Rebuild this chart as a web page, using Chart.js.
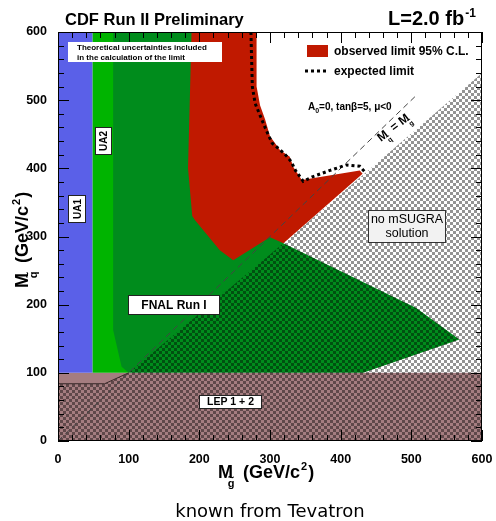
<!DOCTYPE html>
<html>
<head>
<meta charset="utf-8">
<script src="https://cdn.jsdelivr.net/npm/chart.js@4.4.1/dist/chart.umd.min.js"></script>
<style>
html, body { margin: 0; padding: 0; background: #fff; }
#wrap { width: 496px; height: 521px; }
</style>
</head>
<body>
<div id="wrap"><canvas id="chart" width="496" height="521"></canvas></div>
<script>
// regions in (gluino mass, squark mass), GeV/c^2
const lepBand = [[0, 0], [600, 0], [600, 100], [0, 100]];
const ua1Region = [[0, 100], [49, 100], [49, 600], [0, 600]];
const ua2Region = [[49, 100], [100, 100], [100, 600], [49, 600]];
const fnalRegion = [[78, 600], [260, 600], [300, 320], [319, 290], [507, 195], [568, 149], [432, 100], [100, 100], [90, 109], [78, 163]];
const observedRegion = [[189, 600], [281, 600], [281, 520], [286, 492], [293, 472], [300, 447], [307, 437], [314, 427], [328, 417], [333, 402], [345, 383], [427, 397], [431, 392], [319, 290], [300, 299], [248, 265], [229, 280], [194, 324], [190, 330], [184, 400]];
const noSolutionRegion = [[0, 0], [600, 0], [600, 540], [431, 390], [319, 290], [100, 100], [66, 84], [0, 84]];
const lepEdge = [[0, 84], [66, 84], [100, 100]];
const equalMassLine = [[0, 0], [505, 505]];
const expectedLimit = [[273, 600], [275, 520], [279, 495], [287, 475], [295, 455], [303, 437], [320, 422], [330, 410], [336, 397], [347, 381], [361, 388], [385, 397], [408, 405], [427, 403], [434, 395]];
const axisTicks = [0, 100, 200, 300, 400, 500, 600];

const FONT = "'Liberation Sans', Arial, sans-serif";
const toXY = pts => pts.map(p => ({ x: p[0], y: p[1] }));

const canvas = document.getElementById('chart');
const patCanvas = document.createElement('canvas');
patCanvas.width = 6;
patCanvas.height = 6;
const pc = patCanvas.getContext('2d');
pc.fillStyle = 'rgba(0,0,0,0.42)';
pc.fillRect(0, 0, 3, 3);
pc.fillRect(3, 3, 3, 3);
const hatch = canvas.getContext('2d').createPattern(patCanvas, 'repeat');

function area(label, pts, color, order) {
    return {
        label, data: toXY(pts), order,
        backgroundColor: color, borderColor: 'transparent', borderWidth: 0,
        fill: 'shape', pointRadius: 0, tension: 0
    };
}

function line(label, pts, color, width, dash, order) {
    return {
        label, data: toXY(pts), order,
        borderColor: color, borderWidth: width, borderDash: dash,
        fill: false, pointRadius: 0, tension: 0
    };
}

function drawM(ctx, x, y, sub, size) {
    ctx.font = `bold ${size}px ${FONT}`;
    ctx.fillText('M', x, y);
    const mw = ctx.measureText('M').width;
    const ss = Math.round(size * 0.6);
    ctx.font = `bold ${ss}px ${FONT}`;
    const sx = x + mw * 0.65;
    ctx.fillText(sub, sx, y + size * 0.5);
    ctx.fillText('~', sx, y + size * 0.17);
    return sx + ctx.measureText(sub).width + size * 0.2 - x;
}

function massTitle(ctx, x, y, sub) {
    let cx = x + drawM(ctx, x, y, sub, 18);
    ctx.font = `bold 18px ${FONT}`;
    ctx.fillText(' (GeV/c', cx, y);
    cx += ctx.measureText(' (GeV/c').width + 1;
    ctx.font = `bold 11px ${FONT}`;
    ctx.fillText('2', cx, y - 8);
    cx += ctx.measureText('2').width + 1;
    ctx.font = `bold 18px ${FONT}`;
    ctx.fillText(')', cx, y);
}

function box(ctx, x1, y1, x2, y2, fill, stroke) {
    ctx.fillStyle = fill;
    ctx.fillRect(x1, y1, x2 - x1, y2 - y1);
    if (stroke) {
        ctx.strokeStyle = stroke;
        ctx.lineWidth = 1;
        ctx.strokeRect(x1 + 0.5, y1 + 0.5, x2 - x1 - 1, y2 - y1 - 1);
    }
}

const framePlugin = {
    id: 'frame',
    afterDatasetsDraw(chart) {
        const { ctx, chartArea: a, scales: { x, y } } = chart;
        ctx.save();
        ctx.strokeStyle = '#000';
        ctx.lineWidth = 1;
        ctx.setLineDash([]);
        ctx.beginPath();
        x.ticks.forEach(t => {
            const p = Math.round(x.getPixelForValue(t.value)) + 0.5;
            const len = axisTicks.includes(t.value) ? 11 : 6;
            ctx.moveTo(p, a.bottom); ctx.lineTo(p, a.bottom - len);
            ctx.moveTo(p, a.top); ctx.lineTo(p, a.top + len);
        });
        y.ticks.forEach(t => {
            const p = Math.round(y.getPixelForValue(t.value)) + 0.5;
            const len = axisTicks.includes(t.value) ? 11 : 6;
            ctx.moveTo(a.left, p); ctx.lineTo(a.left + len, p);
            ctx.moveTo(a.right, p); ctx.lineTo(a.right - len, p);
        });
        ctx.stroke();
        ctx.strokeRect(a.left + 0.5, a.top + 0.5, a.width - 1, a.height - 1);
        ctx.restore();
    },
    afterDraw(chart) {
        const ctx = chart.ctx;
        ctx.save();
        ctx.fillStyle = '#000';
        ctx.textBaseline = 'alphabetic';
        ctx.textAlign = 'left';

        // header
        ctx.font = `bold 16.5px ${FONT}`;
        ctx.fillText('CDF Run II Preliminary', 65, 25);
        ctx.font = `bold 20px ${FONT}`;
        ctx.fillText('L=2.0 fb', 388, 25);
        const lw = ctx.measureText('L=2.0 fb').width;
        ctx.font = `bold 12px ${FONT}`;
        ctx.fillText('-1', 388 + lw + 1, 17);

        // axis titles
        ctx.fillStyle = '#000';
        massTitle(ctx, 218, 478, 'g');
        ctx.save();
        ctx.translate(28, 288);
        ctx.rotate(-Math.PI / 2);
        massTitle(ctx, 0, 0, 'q');
        ctx.restore();

        // caption
        ctx.font = "18px 'DejaVu Sans', sans-serif";
        ctx.textAlign = 'center';
        ctx.fillText('known from Tevatron', 270, 517);

        // theory note
        box(ctx, 68, 42, 222, 62, '#fff');
        ctx.fillStyle = '#000';
        ctx.textAlign = 'left';
        ctx.font = `bold 8px ${FONT}`;
        ctx.fillText('Theoretical uncertainties included', 77, 50);
        ctx.fillText('in the calculation of the limit', 77, 60);

        // UA1 / UA2 labels
        [['UA1', 68, 195, 86, 223], ['UA2', 95, 127, 112, 155]].forEach(([txt, x1, y1, x2, y2]) => {
            box(ctx, x1, y1, x2, y2, '#fff', '#222');
            ctx.save();
            ctx.translate((x1 + x2) / 2, (y1 + y2) / 2);
            ctx.rotate(-Math.PI / 2);
            ctx.fillStyle = '#000';
            ctx.textAlign = 'center';
            ctx.textBaseline = 'middle';
            ctx.font = `bold 10px ${FONT}`;
            ctx.fillText(txt, 0, 1);
            ctx.restore();
        });

        ctx.textAlign = 'center';
        ctx.textBaseline = 'middle';
        box(ctx, 128, 295, 220, 315, '#fff', '#222');
        ctx.fillStyle = '#000';
        ctx.font = `bold 12px ${FONT}`;
        ctx.fillText('FNAL Run I', 174, 305.5);

        box(ctx, 199, 395, 262, 409, '#fff', '#222');
        ctx.fillStyle = '#000';
        ctx.font = `bold 10.5px ${FONT}`;
        ctx.fillText('LEP 1 + 2', 230.5, 402.5);

        box(ctx, 368, 210, 446, 243, '#f2f2f2', '#333');
        ctx.fillStyle = '#000';
        ctx.font = `12.5px ${FONT}`;
        ctx.fillText('no mSUGRA', 407, 219.5);
        ctx.fillText('solution', 407, 234);

        // legend
        ctx.fillStyle = '#c01900';
        ctx.fillRect(307, 45, 21, 12);
        ctx.strokeStyle = '#000';
        ctx.lineWidth = 3;
        ctx.setLineDash([3, 3]);
        ctx.beginPath();
        ctx.moveTo(305, 71);
        ctx.lineTo(329, 71);
        ctx.stroke();
        ctx.setLineDash([]);
        ctx.fillStyle = '#000';
        ctx.textAlign = 'left';
        ctx.textBaseline = 'alphabetic';
        ctx.font = `bold 12px ${FONT}`;
        ctx.fillText('observed limit 95% C.L.', 334, 55);
        ctx.fillText('expected limit', 334, 75);

        // model parameters
        ctx.font = `bold 10px ${FONT}`;
        ctx.fillText('A', 308, 110);
        let cx = 308 + ctx.measureText('A').width;
        ctx.font = `bold 7px ${FONT}`;
        ctx.fillText('0', cx, 113);
        cx += ctx.measureText('0').width;
        ctx.font = `bold 10px ${FONT}`;
        ctx.fillText('=0, tan\u03b2=5, \u03bc<0', cx, 110);

        // equal mass label
        ctx.save();
        ctx.translate(381, 142);
        ctx.rotate(-38 * Math.PI / 180);
        let ex = drawM(ctx, 0, 0, 'q', 12);
        ctx.font = `bold 12px ${FONT}`;
        ctx.fillText(' = ', ex, 0);
        ex += ctx.measureText(' = ').width;
        drawM(ctx, ex, 0, 'g', 12);
        ctx.restore();

        ctx.restore();
    }
};

const datasets = [
    area('LEP 1 + 2', lepBand, '#a57d80', 20),
    area('UA1', ua1Region, '#5a60e8', 19),
    area('UA2', ua2Region, '#00b400', 18),
    area('FNAL Run I', fnalRegion, '#008c1c', 17),
    area('observed limit 95% C.L.', observedRegion, '#c01900', 16),
    area('no mSUGRA solution', noSolutionRegion, hatch, 15),
    line('LEP edge', lepEdge, '#3a2a2a', 1, [], 14),
    line('equal masses', equalMassLine, '#444', 1, [6, 4], 13),
    line('expected limit', expectedLimit, '#000', 3, [3, 3], 12)
];

const tickOpts = {
    stepSize: 20,
    autoSkip: false,
    maxRotation: 0,
    minRotation: 0,
    color: '#000',
    font: { size: 12.5, weight: 'bold', family: FONT },
    callback: v => axisTicks.includes(v) ? String(v) : ''
};

new Chart(canvas, {
    type: 'line',
    data: { datasets },
    options: {
        responsive: false,
        animation: false,
        events: [],
        layout: { padding: { top: 32, right: 14, left: 0, bottom: 0 } },
        plugins: {
            legend: { display: false },
            tooltip: { enabled: false },
            filler: { drawTime: 'beforeDatasetDraw' }
        },
        scales: {
            x: {
                type: 'linear', min: 0, max: 600,
                grid: { display: false }, border: { display: false },
                ticks: { ...tickOpts, padding: 3 },
                afterFit: s => { s.height = 80; }
            },
            y: {
                type: 'linear', min: 0, max: 600,
                grid: { display: false }, border: { display: false },
                ticks: { ...tickOpts, padding: 3 },
                afterFit: s => { s.width = 58; }
            }
        }
    },
    plugins: [framePlugin]
});
</script>
</body>
</html>
